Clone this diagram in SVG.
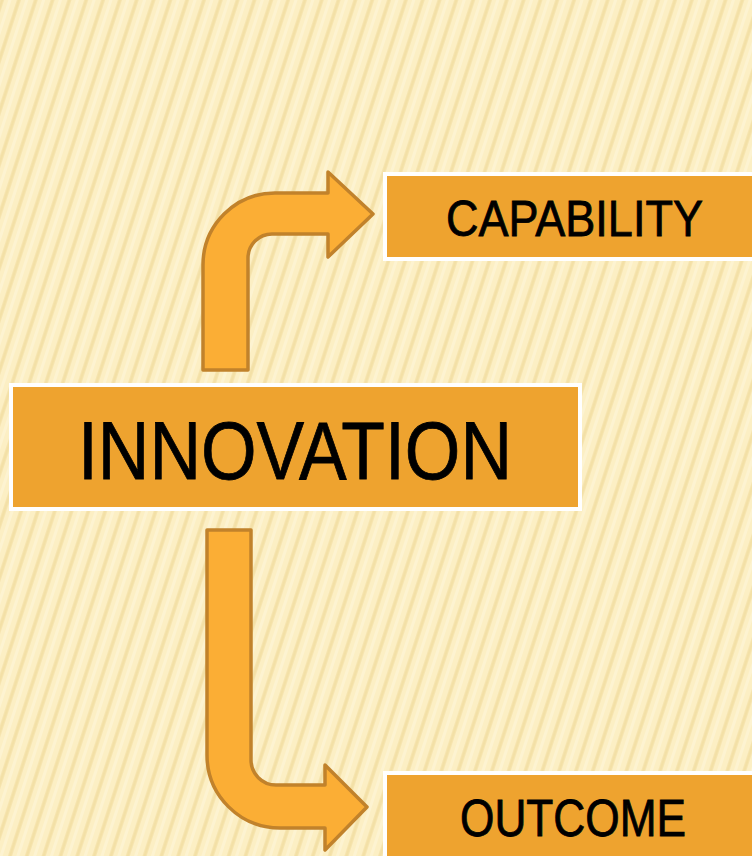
<svg xmlns="http://www.w3.org/2000/svg" width="752" height="856" viewBox="0 0 752 856">
<style>
.box{fill:#EEA32F;stroke:#FFFFFF;stroke-width:4}
.lbl{font-family:"Liberation Sans",Arial,sans-serif;fill:#000;stroke:#000;stroke-width:0.8;text-anchor:start}
.arr{fill:#FBAE35;stroke:#C1822B;stroke-width:3.5;stroke-linejoin:round}
</style>
<defs>
<pattern id="stripes" width="16" height="40" patternUnits="userSpaceOnUse" patternTransform="rotate(18)">
<rect width="16" height="40" fill="#FCEFC4"/>
<rect x="0" y="0" width="4" height="40" fill="#F5E4AD" opacity="0.9"/>
<rect x="1" y="0" width="2" height="40" fill="#F1DDA0" opacity="0.6"/>
<rect x="8" y="0" width="3" height="40" fill="#FEF4D4" opacity="0.8"/>
</pattern>
</defs>
<rect width="752" height="856" fill="url(#stripes)"/>
<g id="connectors">
<path class="arr" d="M203,370 V265 A72,72 0 0 1 275,193 H328 V172 L373,214 L328,257 V234 H272 A24,24 0 0 0 248,258 V370 Z"/>
<path class="arr" d="M207,530 H251 V760 A25,25 0 0 0 276,785 H325 V765 L367,807 L325,850 V828 H280 A73,73 0 0 1 207,755 Z"/>
</g>
<g id="innovation">
<rect class="box" x="11" y="385" width="569" height="124"/>
<text class="lbl" x="78" y="479" font-size="82" textLength="434" lengthAdjust="spacingAndGlyphs">INNOVATION</text>
</g>
<g id="capability">
<rect class="box" x="385" y="174" width="372" height="85"/>
<text class="lbl" x="446" y="236" font-size="50" textLength="257" lengthAdjust="spacingAndGlyphs">CAPABILITY</text>
</g>
<g id="outcome">
<rect class="box" x="385" y="773" width="372" height="90"/>
<text class="lbl" x="460" y="836" font-size="51" textLength="226" lengthAdjust="spacingAndGlyphs">OUTCOME</text>
</g>
</svg>
